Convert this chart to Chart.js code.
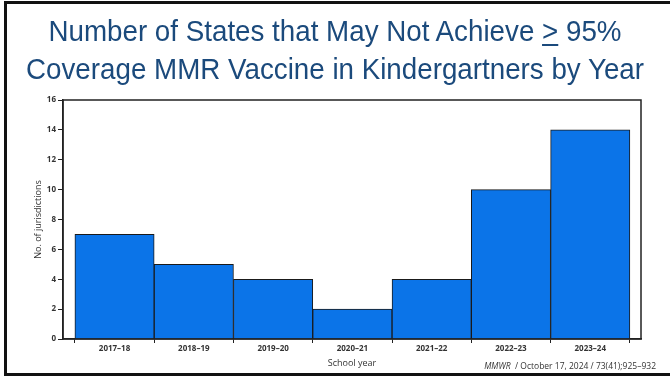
<!DOCTYPE html>
<html lang="en">
<head>
  <meta charset="UTF-8">
  <title>MMR coverage by year</title>
  <script src="https://cdn.jsdelivr.net/npm/chart.js"></script>
  <style>
    html, body { margin: 0; padding: 0; background: #fff; }
    .slide {
      position: relative;
      width: 670px;
      height: 378px;
      overflow: hidden;
      font-family: "Liberation Sans", Arial, sans-serif;
    }
    .frame {
      position: absolute;
      left: 4px; top: 1px;
      width: 670px; height: 369px;
      border-top: 3px solid #111;
      border-left: 3px solid #111;
      border-bottom: 3px solid #111;
    }
    .title {
      position: absolute;
      left: 0; top: 12px;
      width: 670px;
      text-align: center;
      color: #1b4a7c;
      font-size: 30px;
      line-height: 38px;
      transform: scaleX(0.925);
      transform-origin: center;
    }
    .title u { text-underline-offset: 3px; text-decoration-thickness: 2px; }
    .source {
      position: absolute;
      right: 14px; top: 360px;
      font-family: "Open Sans", sans-serif;
      font-size: 8.5px;
      color: #333;
    }
    canvas { position: absolute; left: 0; top: 0; }
  </style>
</head>
<body>
<div class="slide">
  <canvas id="chart" width="670" height="378"></canvas>
  <div class="frame"></div>
  <div class="title">Number of States that May Not Achieve <u>&gt;</u> 95%<br>Coverage MMR Vaccine in Kindergartners by Year</div>
  <div class="source"><i>MMWR</i> &nbsp;/ October 17, 2024 / 73(41);925–932</div>
</div>

<script>
// data
const schoolYears = ['2017–18', '2018–19', '2019–20', '2020–21', '2021–22', '2022–23', '2023–24'];
const jurisdictions = [7, 5, 4, 2, 4, 10, 14];
const yTicks = [0, 2, 4, 6, 8, 10, 12, 14, 16];

const tickFont = { family: 'Open Sans', size: 8, weight: '700' };

// box around the plot (top and right sides)
const boxPlugin = {
  id: 'box',
  afterDraw(chart) {
    const a = chart.chartArea;
    const ctx = chart.ctx;
    ctx.save();
    ctx.strokeStyle = '#222';
    ctx.lineWidth = 1.5;
    ctx.strokeRect(a.left, a.top, a.right - a.left, a.bottom - a.top);
    ctx.restore();
  }
};

new Chart(document.getElementById('chart'), {
  type: 'bar',
  data: {
    datasets: [{
      data: schoolYears.map((y, i) => ({ x: i, y: jurisdictions[i] })),
      backgroundColor: '#0b74e8',
      borderColor: '#1a1a1a',
      borderWidth: 1,
      barPercentage: 1,
      categoryPercentage: 1
    }]
  },
  options: {
    responsive: false,
    animation: false,
    layout: { padding: { left: 33, right: 29, top: 100, bottom: 9 } },
    plugins: { legend: { display: false }, tooltip: { enabled: false } },
    scales: {
      x: {
        type: 'linear',
        min: -0.65,
        max: 6.64,
        offset: false,
        afterBuildTicks: s => { s.ticks = schoolYears.map((_, i) => ({ value: i })); },
        afterFit: s => { s.height = 30; },
        ticks: {
          callback: v => schoolYears[v],
          font: tickFont,
          color: '#333',
          padding: 1,
          maxRotation: 0
        },
        grid: { drawOnChartArea: false, drawTicks: true, tickLength: 4, color: '#222' },
        border: { color: '#222', width: 1.5 },
        title: { display: true, text: 'School year', font: { family: 'Open Sans', size: 9 }, color: '#333', padding: 0 }
      },
      y: {
        min: 0,
        max: 16,
        afterBuildTicks: s => { s.ticks = yTicks.map(v => ({ value: v })); },
        afterFit: s => { s.width = 30; },
        ticks: { font: tickFont, color: '#333', padding: 2 },
        grid: { drawOnChartArea: false, drawTicks: true, tickLength: 5, color: '#222' },
        border: { color: '#222', width: 1.5 },
        title: { display: true, text: 'No. of jurisdictions', font: { family: 'Open Sans', size: 9 }, color: '#333', padding: 0 }
      }
    }
  },
  plugins: [boxPlugin]
});
</script>
</body>
</html>
